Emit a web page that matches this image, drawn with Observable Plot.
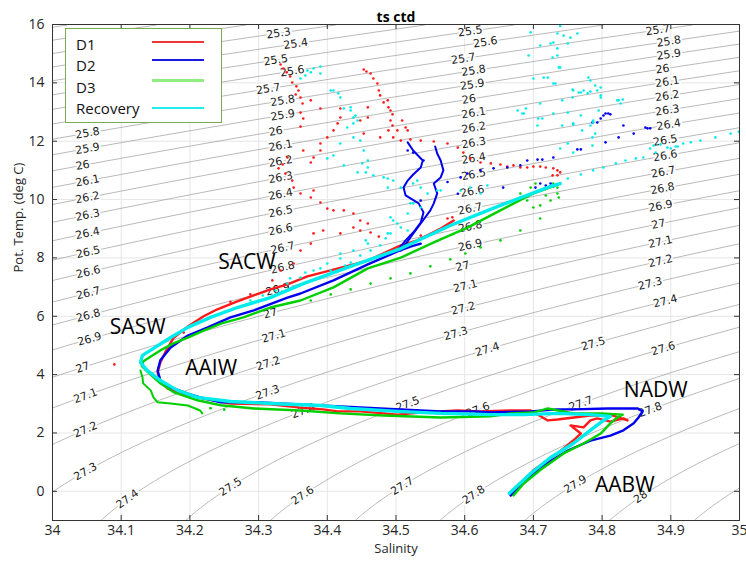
<!DOCTYPE html>
<html><head><meta charset="utf-8">
<script src="https://cdn.jsdelivr.net/npm/d3@7"></script>
<script src="https://cdn.jsdelivr.net/npm/@observablehq/plot@0.6"></script>
<style>
body{margin:0;background:#fff;}
#wrap{position:relative;width:746px;height:561px;font-family:"Open Sans",sans-serif;}
#legend{position:absolute;left:65px;top:28px;width:155px;height:93px;border:1px solid #7aab4f;background:#fff;}
.item{position:absolute;left:10px;font-size:15px;color:#111;line-height:18px;transform:translateY(-50%);}
.sw{position:absolute;left:86px;width:52px;height:0;}
</style></head><body><div id="wrap"><div id="chart"></div><div id="legend"></div></div>
<script>
// ---------- data ----------
const xTicks = [34, 34.1, 34.2, 34.3, 34.4, 34.5, 34.6, 34.7, 34.8, 34.9, 35];
const yTicks = [0, 2, 4, 6, 8, 10, 12, 14, 16];
const isoLevels = [24.9,25.0,25.1,25.2,25.3,25.4,25.5,25.6,25.7,25.8,25.9,26.0,26.1,26.2,26.3,26.4,26.5,26.6,26.7,26.8,26.9,27.0,27.1,27.2,27.3,27.4,27.5,27.6,27.7,27.8,27.9,28.0,28.1,28.2];
const seriesNames = ["D1", "D2", "D3", "Recovery"];
const seriesColors = ["#ff1a1a", "#0000f0", "#00d000", "#00ecec"];
const legendColors = ["#f03535", "#1a1ae0", "#90ee80", "#20eeee"];

// contour labels: [level, salinity, temperature]
const contourLabels = [
[25.8,34.051,12.30],[25.9,34.051,11.75],[26,34.044,11.20],[26.1,34.051,10.65],[26.2,34.051,10.07],[26.3,34.051,9.52],[26.4,34.051,8.87],[26.5,34.052,8.22],[26.6,34.052,7.60],[26.7,34.052,6.78],[26.8,34.052,6.10],[26.9,34.054,5.24],[27,34.044,4.25],[27.1,34.048,3.29],[27.2,34.048,2.16],[27.3,34.048,0.65],[27.4,34.109,-0.31],[27.5,34.259,0.03],
[25.3,34.329,15.73],[25.4,34.354,15.38],[25.5,34.325,14.77],[25.6,34.349,14.42],[25.7,34.314,13.81],[25.8,34.335,13.40],[25.9,34.335,12.92],[26,34.325,12.37],[26.1,34.332,11.85],[26.2,34.332,11.34],[26.3,34.332,10.83],[26.4,34.332,10.21],[26.5,34.332,9.63],[26.6,34.332,9.04],[26.7,34.335,8.32],[26.8,34.335,7.64],[26.9,34.328,6.99],[27,34.317,6.13],[27.1,34.322,5.41],[27.2,34.314,4.49],[27.3,34.313,3.46],[27.4,34.365,2.77],[27.6,34.364,-0.21],
[25.5,34.608,15.79],[25.6,34.630,15.45],[25.7,34.598,14.83],[25.8,34.613,14.42],[25.9,34.611,13.98],[26,34.606,13.46],[26.1,34.613,12.95],[26.2,34.613,12.47],[26.3,34.613,11.96],[26.4,34.613,11.41],[26.5,34.613,10.89],[26.6,34.611,10.31],[26.7,34.608,9.69],[26.8,34.608,9.11],[26.9,34.608,8.49],[27,34.597,7.74],[27.1,34.601,7.06],[27.2,34.598,6.30],[27.3,34.587,5.45],[27.4,34.633,4.83],[27.5,34.517,3.01],[27.6,34.619,2.84],[27.7,34.509,0.13],[27.8,34.613,-0.14],
[25.7,34.881,15.79],[25.8,34.897,15.42],[25.9,34.897,15.01],[26,34.888,14.49],[26.1,34.895,14.05],[26.2,34.895,13.60],[26.3,34.895,13.09],[26.4,34.897,12.61],[26.5,34.892,12.09],[26.6,34.892,11.51],[26.7,34.889,10.93],[26.8,34.888,10.41],[26.9,34.885,9.87],[27,34.882,9.21],[27.1,34.885,8.53],[27.2,34.885,7.84],[27.3,34.870,7.12],[27.4,34.892,6.61],[27.5,34.787,5.07],[27.6,34.889,4.90],[27.7,34.769,3.01],[27.8,34.870,2.84],[27.9,34.761,0.20],[28,34.856,-0.21]
];

const massNames = ["SACW", "SASW", "AAIW", "NADW", "AABW"];
const massS = [34.283, 34.124, 34.231, 34.878, 34.833];
const massT = [7.84, 5.62, 4.21, 3.46, 0.20];

// D1 (red)
const d1Line = [[34.667,-0.14],[34.700,0.72],[34.735,1.30],[34.758,1.74],[34.769,1.98],[34.754,2.26],[34.773,2.19],[34.783,2.43],[34.793,2.50],[34.812,2.39],[34.831,2.50],[34.837,2.43],[34.815,2.60],[34.783,2.60],[34.735,2.46],[34.721,2.43],[34.696,2.77],[34.667,2.77],[34.623,2.74],[34.590,2.77],[34.536,2.70],[34.502,2.63],[34.482,2.67],[34.448,2.74],[34.415,2.74],[34.394,2.81],[34.361,2.87],[34.317,2.98],[34.259,3.01],[34.220,3.18],[34.186,3.35],[34.167,3.53],[34.157,3.80],[34.153,4.07],[34.157,4.42],[34.164,4.76],[34.176,5.25],[34.197,5.65],[34.220,6.00],[34.240,6.24],[34.269,6.51],[34.293,6.72],[34.317,6.92],[34.342,7.09],[34.371,7.37],[34.409,7.60],[34.459,7.91],[34.507,8.43],[34.531,8.60],[34.565,9.01],[34.584,9.28]];
const d1Dots = [[34.332,14.63],[34.336,14.49],[34.341,14.36],[34.346,14.22],[34.349,14.01],[34.355,13.88],[34.358,13.74],[34.354,13.60],[34.361,13.50],[34.364,13.29],[34.376,13.40],[34.390,13.12],[34.361,12.98],[34.419,13.12],[34.365,12.78],[34.361,12.50],[34.409,12.37],[34.415,12.61],[34.419,12.81],[34.400,12.13],[34.390,11.92],[34.365,11.68],[34.390,11.68],[34.380,11.44],[34.342,11.44],[34.376,11.27],[34.335,11.20],[34.329,11.07],[34.339,10.89],[34.349,10.65],[34.351,10.41],[34.361,10.21],[34.376,10.07],[34.380,10.31],[34.390,9.90],[34.400,9.69],[34.409,9.63],[34.424,9.63],[34.438,9.52],[34.448,9.28],[34.459,9.18],[34.438,9.04],[34.448,8.94],[34.463,8.87],[34.475,8.73],[34.380,8.84],[34.394,8.94],[34.419,8.84],[34.376,8.49],[34.361,8.25],[34.351,7.81],[34.332,7.57],[34.342,7.12],[34.320,7.23],
[34.453,14.46],[34.457,14.39],[34.463,14.32],[34.467,14.15],[34.473,13.98],[34.475,13.74],[34.477,13.57],[34.482,13.33],[34.488,13.40],[34.489,13.16],[34.492,13.05],[34.495,12.92],[34.492,12.71],[34.495,12.54],[34.489,12.37],[34.502,12.37],[34.509,12.71],[34.514,12.47],[34.517,12.37],[34.477,12.13],[34.459,12.81],[34.448,12.71],[34.453,12.26],[34.459,13.16],[34.496,12.13],[34.507,12.02],[34.521,12.06],[34.536,12.02],[34.555,11.99],[34.575,11.92],[34.590,11.78],[34.598,11.61],[34.608,11.41],[34.623,11.27],[34.638,11.24],[34.652,11.20],[34.662,11.13],[34.671,11.17],[34.681,11.10],[34.691,11.10],[34.700,11.13],[34.710,11.13],[34.718,11.10],[34.729,11.07],[34.735,11.00],[34.739,10.93],[34.728,10.83],[34.735,10.83],
[34.521,8.77],[34.536,8.77],[34.575,9.35],[34.582,9.39],[34.090,4.35],[34.191,5.44],[34.259,6.50],[34.288,6.75]];

// D2 (blue)
const d2Line = [[34.667,-0.14],[34.710,0.82],[34.750,1.40],[34.783,1.74],[34.812,1.91],[34.831,2.09],[34.846,2.33],[34.853,2.53],[34.859,2.74],[34.852,2.84],[34.808,2.84],[34.758,2.81],[34.735,2.81],[34.696,2.74],[34.638,2.70],[34.613,2.74],[34.565,2.74],[34.507,2.81],[34.477,2.84],[34.419,2.91],[34.361,2.98],[34.303,3.05],[34.245,3.05],[34.215,3.22],[34.197,3.35],[34.172,3.56],[34.157,3.80],[34.153,4.14],[34.157,4.49],[34.172,4.93],[34.197,5.34],[34.226,5.62],[34.259,5.96],[34.293,6.20],[34.342,6.64],[34.361,6.78],[34.409,7.23],[34.459,7.78],[34.502,8.22],[34.521,8.39],[34.536,8.49]];
const d2WiggleA = [[34.502,8.25],[34.514,8.60],[34.525,8.87],[34.536,9.21],[34.540,9.56],[34.533,9.87],[34.514,10.14],[34.511,10.41],[34.517,10.65],[34.525,10.86],[34.536,11.10],[34.539,11.34],[34.525,11.68],[34.517,11.96]];
const d2WiggleB = [[34.507,8.25],[34.521,8.70],[34.536,9.18],[34.550,9.63],[34.555,9.87],[34.560,10.21],[34.555,10.55],[34.565,10.76],[34.569,11.00],[34.565,11.34],[34.560,11.58],[34.557,11.82]];
const d2Dots = [[34.517,11.68],[34.525,11.61],[34.540,11.34],[34.594,10.76],[34.604,10.89],[34.623,11.00],[34.642,11.07],[34.662,11.10],[34.681,11.17],[34.691,11.34],[34.706,11.37],[34.713,11.37],[34.729,11.44],[34.764,11.72],[34.769,11.72],[34.805,11.96],[34.824,12.13],[34.846,12.26],[34.863,12.47],[34.866,12.44],[34.870,12.44],[34.805,12.95],[34.809,12.95],[34.812,12.92],[34.802,12.88],[34.798,12.78],[34.793,12.64],[34.786,12.64],[34.831,12.54],[34.656,10.41],[34.710,10.55],[34.718,10.48],[34.725,10.55],[34.729,10.45],[34.735,10.52],[34.703,10.41],[34.536,9.97],[34.575,10.60],[34.590,10.20]];

// D3 (green)
const d3Line = [[34.671,-0.14],[34.686,0.27],[34.715,0.82],[34.744,1.30],[34.773,1.64],[34.798,1.98],[34.812,2.33],[34.822,2.53],[34.830,2.63],[34.798,2.67],[34.758,2.67],[34.721,2.84],[34.700,2.70],[34.667,2.67],[34.638,2.57],[34.565,2.53],[34.482,2.60],[34.419,2.67],[34.361,2.77],[34.293,2.84],[34.245,2.95],[34.211,3.12],[34.176,3.40],[34.157,3.70],[34.138,4.10],[34.130,4.30],[34.132,4.45],[34.143,4.62],[34.157,4.83],[34.176,5.07],[34.197,5.27],[34.220,5.51],[34.245,5.75],[34.278,5.96],[34.317,6.30],[34.361,6.54],[34.409,6.99],[34.459,7.64],[34.507,8.01],[34.555,8.53],[34.604,9.04],[34.652,9.63],[34.700,10.21],[34.732,10.48]];
const d3Lower = [[34.128,4.14],[34.131,3.90],[34.132,3.70],[34.143,3.46],[34.147,3.22],[34.153,3.05],[34.172,3.01],[34.197,2.94],[34.215,2.77],[34.218,2.67]];
const d3Dots = [[34.376,6.54],[34.405,6.75],[34.434,6.92],[34.463,7.12],[34.492,7.30],[34.521,7.47],[34.550,7.71],[34.579,7.95],[34.601,8.15],[34.623,8.36],[34.652,8.60],[34.681,8.94],[34.710,9.35],[34.681,10.21],[34.696,10.41],[34.703,10.55],[34.729,10.55],[34.735,10.41],[34.735,10.21],[34.737,10.07],[34.691,9.97],[34.700,9.73],[34.725,9.97],[34.718,10.14],[34.710,9.80],[34.230,2.85],[34.250,2.80]];

// Recovery (cyan)
const recLine = [[34.665,-0.07],[34.696,0.61],[34.725,1.16],[34.758,1.64],[34.779,2.02],[34.802,2.43],[34.812,2.57],[34.783,2.63],[34.735,2.67],[34.686,2.63],[34.638,2.63],[34.565,2.67],[34.502,2.74],[34.434,2.84],[34.390,2.94],[34.317,3.01],[34.259,3.08],[34.211,3.22],[34.182,3.46],[34.157,3.80],[34.138,4.14],[34.128,4.42],[34.131,4.66],[34.147,4.90],[34.172,5.27],[34.197,5.62],[34.230,5.96],[34.269,6.30],[34.317,6.64],[34.365,7.12],[34.390,7.33],[34.434,7.71],[34.507,8.32],[34.579,9.11],[34.652,9.80],[34.725,10.45],[34.739,10.55]];
const recDots = [[34.750,10.72],[34.769,10.86],[34.787,11.00],[34.802,11.10],[34.820,11.24],[34.834,11.34],[34.849,11.41],[34.860,11.44],[34.878,11.61],[34.895,11.78],[34.907,11.82],[34.918,11.92],[34.929,11.96],[34.943,12.02],[34.965,12.13],[34.987,12.26],[34.999,12.33],[34.875,11.85],[34.900,11.75],[34.910,11.82],[34.870,11.75],[34.885,11.89],
[34.371,14.42],[34.380,14.49],[34.390,14.56],[34.376,14.36],[34.390,14.32],[34.368,14.25],[34.361,14.15],[34.409,13.74],[34.416,13.64],[34.424,13.12],[34.434,13.05],[34.438,12.81],[34.444,12.71],[34.429,12.47],[34.438,12.13],[34.448,12.02],[34.453,11.68],[34.459,11.34],[34.451,11.24],[34.459,11.10],[34.456,10.93],[34.424,11.17],[34.409,11.51],[34.400,11.41],[34.467,10.83],[34.482,10.76],[34.496,10.65],[34.488,10.41],[34.507,10.41],[34.525,10.55],[34.536,10.41],[34.546,10.21],[34.565,10.31],[34.525,9.87],[34.536,9.73],[34.517,9.52],[34.496,9.28],[34.507,9.04],[34.492,8.84],
[34.434,13.16],[34.438,12.61],[34.419,11.92],[34.444,10.93],[34.488,10.72],[34.531,10.65],[34.560,10.31],[34.521,9.87],[34.492,9.39],[34.502,9.18],[34.517,8.94],[34.488,8.84],[34.459,8.49],[34.438,8.25],[34.419,8.15],[34.400,7.81],[34.380,7.57],[34.361,7.33],[34.342,7.12],[34.325,6.88],[34.306,6.71],[34.288,6.54],[34.405,13.74],[34.419,13.50],[34.441,12.88],
[34.696,15.73],[34.735,15.69],[34.739,15.95],[34.744,15.62],[34.754,15.55],[34.764,15.69],[34.750,15.35],[34.729,15.38],[34.725,15.35],[34.710,15.28],[34.735,15.18],[34.693,14.94],[34.728,14.87],[34.735,14.94],[34.737,14.53],[34.700,14.15],[34.715,14.18],[34.729,13.98],[34.780,14.18],[34.783,14.08],[34.758,13.74],[34.766,13.67],[34.773,13.74],[34.783,13.70],[34.793,13.74],[34.790,13.91],[34.798,13.50],[34.742,13.40],[34.757,13.50],[34.710,13.29],[34.677,13.05],[34.684,12.95],[34.689,13.12],[34.729,12.95],[34.750,12.98],[34.769,12.88],[34.795,13.05],[34.822,13.40],[34.830,13.43],[34.706,12.54],[34.713,12.78],[34.742,12.54],[34.758,12.57],[34.783,12.54],[34.787,12.71],
[34.739,14.53],[34.721,14.18],[34.732,13.98],[34.798,13.84],[34.757,13.77],[34.769,13.67],[34.798,13.57],[34.779,13.64],[34.824,13.40],[34.827,13.29],[34.686,12.95],[34.707,12.78],[34.758,12.61],[34.787,12.64],[34.771,12.37],[34.790,12.26],[34.786,12.13],[34.750,11.92],[34.739,11.75],[34.758,11.61],[34.786,11.85],
[34.419,7.98],[34.434,7.84],[34.448,8.08],[34.463,8.25],[34.477,8.43],[34.426,7.74],[34.405,7.57],[34.456,8.60],[34.485,8.67],[34.390,7.64],[34.368,7.50],[34.346,7.30],[34.594,10.31],[34.608,10.41],[34.623,10.21],[34.633,10.48]];

// ---------- layout ----------
const W = 746, H = 561, mL = 52, mR = 7, mT = 24, mB = 41;
const kx = (W - mL - mR) / 1, ky = (H - mT - mB) / 17;

// potential density anomaly (UNESCO EOS-80 at p = 0)
function sig(S, T) {
  const rw = 999.842594 + 6.793952e-2*T - 9.095290e-3*T*T + 1.001685e-4*T**3 - 1.120083e-6*T**4 + 6.536332e-9*T**5;
  const A = 0.824493 - 4.0899e-3*T + 7.6438e-5*T*T - 8.2467e-7*T**3 + 5.3875e-9*T**4;
  const B = -5.72466e-3 + 1.0227e-4*T - 1.6546e-6*T*T;
  return rw + A*S + B*Math.pow(S, 1.5) + 4.8314e-4*S*S - 1000;
}
function grad(S, T) { const h = 1e-3; return [(sig(S+h,T)-sig(S-h,T))/(2*h), (sig(S,T+h)-sig(S,T-h))/(2*h)]; }
const labelRows = contourLabels.map(([L, S, T]) => {
  let t = T;
  for (let i = 0; i < 6; i++) { const g = grad(S, t); t -= (sig(S, t) - L) / g[1]; }
  const g = grad(S, t);
  const ang = Math.atan2(-g[0]*ky, -g[1]*kx) * 180 / Math.PI;
  return {label: String(L), S, T: t, ang};
});
const masses = massNames.map((n, i) => ({n, S: massS[i], T: massT[i]}));
const X = d => d[0], Y = d => d[1];

const chart = Plot.plot({
  width: W, height: H, marginLeft: mL, marginRight: mR, marginTop: mT, marginBottom: mB,
  x: {domain: [34, 35]}, y: {domain: [-1, 16]},
  style: {fontFamily: "'Open Sans', sans-serif", fontSize: "14px", color: "#262626", background: "#fff"},
  marks: [
    Plot.ruleX(xTicks, {x: d => d, stroke: "#e6e6e6", strokeOpacity: 1}),
    Plot.ruleY(yTicks, {y: d => d, stroke: "#e6e6e6", strokeOpacity: 1}),
    Plot.contour({x1: 34, x2: 35, y1: -1, y2: 16, value: sig, thresholds: isoLevels, pixelSize: 1, stroke: "#a2a2a2", strokeWidth: 0.75, fill: "none"}),
    Plot.text(labelRows, {x: "S", y: "T", text: "label", rotate: "ang", fontFamily: "'DejaVu Sans', sans-serif", fontSize: 11, fill: "#222", stroke: "#fff", strokeWidth: 4, paintOrder: "stroke"}),
    Plot.line(d1Line, {x: X, y: Y, stroke: seriesColors[0], strokeWidth: 2.4}),
    Plot.dot(d1Dots, {x: X, y: Y, r: 1.3, fill: seriesColors[0]}),
    Plot.line(d2Line, {x: X, y: Y, stroke: seriesColors[1], strokeWidth: 2.4}),
    Plot.line(d2WiggleA, {x: X, y: Y, stroke: seriesColors[1], strokeWidth: 2}),
    Plot.line(d2WiggleB, {x: X, y: Y, stroke: seriesColors[1], strokeWidth: 2}),
    Plot.dot(d2Dots, {x: X, y: Y, r: 1.3, fill: seriesColors[1]}),
    Plot.line(d3Line, {x: X, y: Y, stroke: seriesColors[2], strokeWidth: 2.4}),
    Plot.line(d3Lower, {x: X, y: Y, stroke: seriesColors[2], strokeWidth: 2}),
    Plot.dot(d3Dots, {x: X, y: Y, r: 1.3, fill: seriesColors[2]}),
    Plot.line(recLine, {x: X, y: Y, stroke: seriesColors[3], strokeWidth: 3.4}),
    Plot.dot(recDots, {x: X, y: Y, r: 1.3, fill: seriesColors[3]}),
    Plot.text(masses, {x: "S", y: "T", text: "n", fontSize: 21, fill: "#000", fontFamily: "'Open Sans', sans-serif"}),
    Plot.frame({stroke: "#333"}),
    Plot.ruleX(xTicks, {x: d => d, insetTop: H - mT - mB - 5, stroke: "#333"}),
    Plot.ruleX(xTicks, {x: d => d, insetBottom: H - mT - mB - 5, stroke: "#333"}),
    Plot.ruleY(yTicks, {y: d => d, insetRight: W - mL - mR - 5, stroke: "#333"}),
    Plot.ruleY(yTicks, {y: d => d, insetLeft: W - mL - mR - 5, stroke: "#333"}),
    Plot.axisX(xTicks, {anchor: "bottom", tickSize: 0, tickPadding: 5, label: null, fontSize: 14, tickFormat: d => String(+d.toFixed(1))}),
    Plot.axisY(yTicks, {anchor: "left", tickSize: 0, tickPadding: 8, label: null, fontSize: 14}),
    Plot.text(["Salinity"], {frameAnchor: "bottom", dy: 32, fontSize: 13, text: d => d}),
    Plot.text(["Pot. Temp. (deg C)"], {frameAnchor: "left", dx: -34, rotate: -90, fontSize: 13, text: d => d}),
    Plot.text(["ts ctd"], {frameAnchor: "top", dy: -12, fontSize: 14, fontWeight: "bold", fill: "#000", text: d => d})
  ]
});
document.getElementById("chart").appendChild(chart);

// legend
const lg = document.getElementById("legend");
const textY = [15.3, 36.3, 57.7, 78.7];
const lineY = [12.7, 31, 51.3, 78.7];
seriesNames.forEach((n, i) => {
  const t = document.createElement("div");
  t.className = "item"; t.textContent = n; t.style.top = textY[i] + "px";
  lg.appendChild(t);
  const s = document.createElement("div");
  s.className = "sw"; s.style.top = (lineY[i] - 1) + "px";
  s.style.borderTop = (i === 2 ? 3 : 2) + "px solid " + legendColors[i];
  lg.appendChild(s);
});
</script>
</body></html>
